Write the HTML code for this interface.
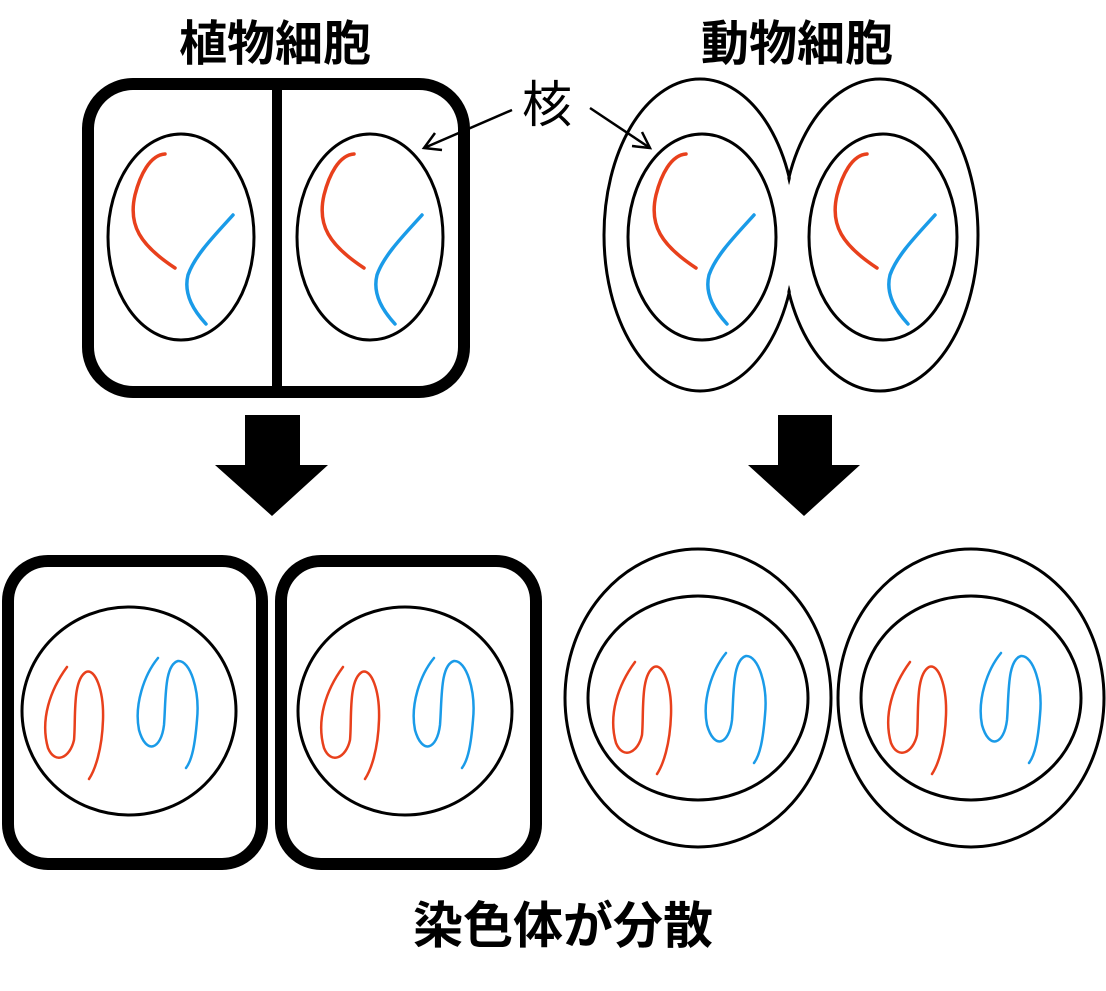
<!DOCTYPE html>
<html><head><meta charset="utf-8"><style>
html,body{margin:0;padding:0;background:#fff;}
svg{display:block;}
text{font-family:"Liberation Sans","Noto Sans CJK JP",sans-serif;}
</style></head><body>
<svg width="1106" height="991" viewBox="0 0 1106 991" xmlns="http://www.w3.org/2000/svg">
<defs>
<g id="topchr" fill="none" stroke-width="3.5" stroke-linecap="round">
<path d="M165,154 C150,155 140,175 135,195 C128,225 140,245 175,268" stroke="#e8401c"/>
<path d="M233,215 C215,235 195,255 188,275 C183,295 195,312 206,324" stroke="#1a9be8"/>
</g>
<g id="botchr" fill="none" stroke-width="2.5" stroke-linecap="round">
<path d="M67,667 C50,690 40,720 48,748 C55,765 70,758 74,740 C76,720 72,680 86,672 C95,668 104,690 103,720 C102,750 95,770 89,779" stroke="#e8401c"/>
<path d="M158,658 C144,675 134,705 139,730 C146,755 161,750 164,725 C166,700 164,665 178,661 C190,660 200,690 197,720 C195,745 192,760 186,768" stroke="#1a9be8"/>
</g>
</defs>
<text x="275" y="60" font-size="48" font-weight="bold" text-anchor="middle">植物細胞</text>
<text x="797" y="60" font-size="48" font-weight="bold" text-anchor="middle">動物細胞</text>
<text x="547" y="122" font-size="50" text-anchor="middle">核</text>
<!-- plant top -->
<rect x="88" y="84" width="376" height="308" rx="45" fill="none" stroke="#000" stroke-width="12"/>
<rect x="272" y="84" width="10" height="308" fill="#000"/>
<ellipse cx="181" cy="237" rx="73" ry="103" fill="none" stroke="#000" stroke-width="3"/>
<ellipse cx="370" cy="237" rx="73" ry="103" fill="none" stroke="#000" stroke-width="3"/>
<use href="#topchr"/>
<use href="#topchr" transform="translate(189,0)"/>
<!-- animal top -->
<ellipse cx="700" cy="235" rx="96" ry="156" fill="none" stroke="#000" stroke-width="3"/>
<ellipse cx="880" cy="235" rx="98" ry="156" fill="none" stroke="#000" stroke-width="3"/>
<ellipse cx="700" cy="235" rx="94" ry="154" fill="#fff"/>
<ellipse cx="880" cy="235" rx="96" ry="154" fill="#fff"/>
<ellipse cx="702" cy="237" rx="74" ry="103" fill="none" stroke="#000" stroke-width="3"/>
<ellipse cx="883" cy="237" rx="74" ry="103" fill="none" stroke="#000" stroke-width="3"/>
<use href="#topchr" transform="translate(521,0)"/>
<use href="#topchr" transform="translate(702,0)"/>
<!-- 核 arrows -->
<g stroke="#000" stroke-width="2.5" fill="none">
<line x1="512" y1="110" x2="424" y2="148"/>
<polyline points="435,133 424,148 442,150"/>
<line x1="590" y1="108" x2="650" y2="148"/>
<polyline points="632,146 650,148 642,132"/>
</g>
<!-- big arrows -->
<polygon points="245,415 300,415 300,465 328,465 272,516 215,465 245,465" fill="#000"/>
<polygon points="778,415 832,415 832,465 860,465 804,516 748,465 778,465" fill="#000"/>
<!-- plant bottom -->
<rect x="8" y="561" width="254" height="303" rx="40" fill="none" stroke="#000" stroke-width="12"/>
<rect x="281" y="561" width="255" height="303" rx="40" fill="none" stroke="#000" stroke-width="12"/>
<ellipse cx="129" cy="711" rx="107" ry="104" fill="none" stroke="#000" stroke-width="3"/>
<ellipse cx="405" cy="711" rx="107" ry="104" fill="none" stroke="#000" stroke-width="3"/>
<use href="#botchr"/>
<use href="#botchr" transform="translate(276,0)"/>
<!-- animal bottom -->
<ellipse cx="698" cy="698" rx="133" ry="149" fill="none" stroke="#000" stroke-width="3"/>
<ellipse cx="971" cy="698" rx="133" ry="149" fill="none" stroke="#000" stroke-width="3"/>
<ellipse cx="698" cy="698" rx="110" ry="102" fill="none" stroke="#000" stroke-width="3"/>
<ellipse cx="971" cy="698" rx="110" ry="102" fill="none" stroke="#000" stroke-width="3"/>
<use href="#botchr" transform="translate(568,-5)"/>
<use href="#botchr" transform="translate(843,-5)"/>
<text x="563" y="943" font-size="50" font-weight="bold" text-anchor="middle">染色体が分散</text>
</svg>
</body></html>
